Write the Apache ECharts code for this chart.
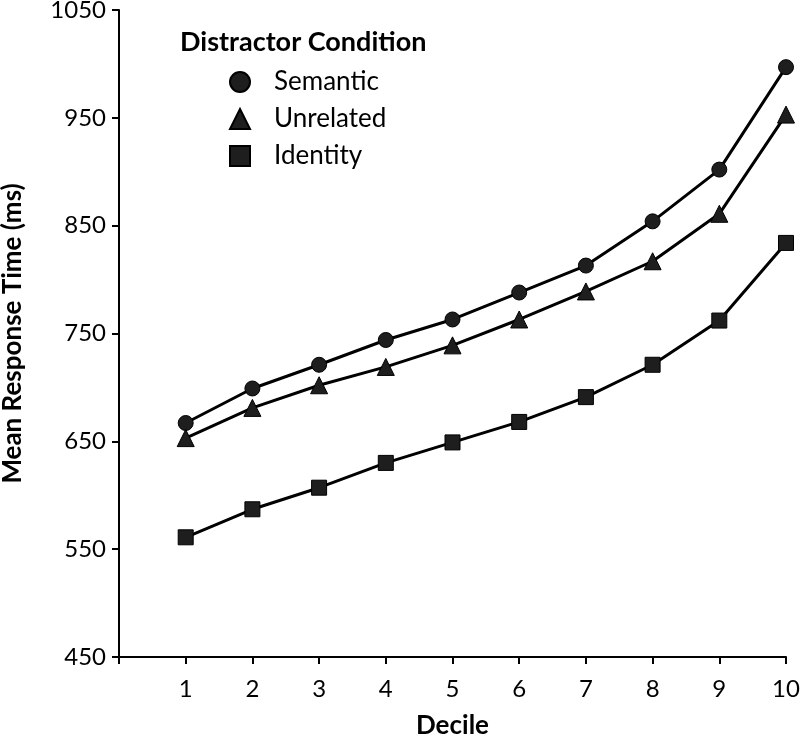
<!DOCTYPE html>
<html><head><meta charset="utf-8">
<script src="https://cdn.jsdelivr.net/npm/echarts@6/dist/echarts.min.js"></script>
<style>html,body{margin:0;padding:0;background:#fff}#c{width:800px;height:737px}</style>
</head><body><div id="c"></div>
<script>
const deciles = [1,2,3,4,5,6,7,8,9,10];
const semantic  = [667, 699, 721, 744, 763, 788, 813, 854, 902, 997];
const unrelated = [653, 681, 702, 719, 739, 763, 789, 817, 861, 953];
const identity  = [561, 587, 607, 630, 649, 668, 691, 721, 762, 834];
const seriesNames = ['Semantic','Unrelated','Identity'];
const symbols = ['circle','triangle','rect'];
const FONT = 'Lato';
const pair = arr => arr.map((v,i)=>[deciles[i], v]);
const data = [semantic, unrelated, identity];
const chart = echarts.init(document.getElementById('c'), null, {renderer:'canvas'});
chart.setOption({
  backgroundColor:'#fff',
  animation:false,
  textStyle:{fontFamily:FONT},
  title:{text:'Distractor Condition', left:175, top:24,
    textStyle:{fontFamily:FONT, fontWeight:'bold', fontSize:27, color:'#000'}},
  legend:{orient:'vertical', left:224, top:64, itemWidth:20, itemHeight:20, itemGap:11,
    data: seriesNames.map((n,i)=>({name:n, icon:symbols[i]})),
    itemStyle:{color:'#1e1e1e'},
    textStyle:{fontFamily:FONT, fontSize:26, color:'#000', padding:[0,0,0,19]}},
  grid:{left:119, right:14, top:10, bottom:80, containLabel:false, outerBoundsMode:'none'},
  xAxis:{type:'value', min:0, max:10, interval:1,
    name:'Decile', nameLocation:'middle', nameGap:56,
    nameTextStyle:{fontFamily:FONT, fontWeight:'bold', fontSize:26, color:'#000'},
    axisLine:{lineStyle:{color:'#000', width:2}},
    axisTick:{show:true, length:7, lineStyle:{color:'#000', width:2}},
    axisLabel:{margin:20, fontSize:24, color:'#000', fontFamily:FONT,
      formatter:v=> v===0 ? '' : String(v)},
    splitLine:{show:false}},
  yAxis:{type:'value', min:450, max:1050, interval:100,
    name:'Mean Response Time (ms)', nameLocation:'middle', nameGap:93,
    nameTextStyle:{fontFamily:FONT, fontWeight:'bold', fontSize:26, color:'#000'},
    axisLine:{show:true, lineStyle:{color:'#000', width:2}},
    axisTick:{show:true, length:7, lineStyle:{color:'#000', width:2}},
    axisLabel:{margin:13, fontSize:24, color:'#000', fontFamily:FONT,
      formatter:v=>String(v)},
    splitLine:{show:false}},
  series: seriesNames.map((n,i)=>({
    name:n, type:'line', data:pair(data[i]),
    symbol:symbols[i], symbolSize: i===1 ? 17 : 15,
    showAllSymbol:true,
    lineStyle:{color:'#000', width:3},
    itemStyle:{color:'#1e1e1e', borderColor:'#000', borderWidth:1}
  }))
});
</script></body></html>
